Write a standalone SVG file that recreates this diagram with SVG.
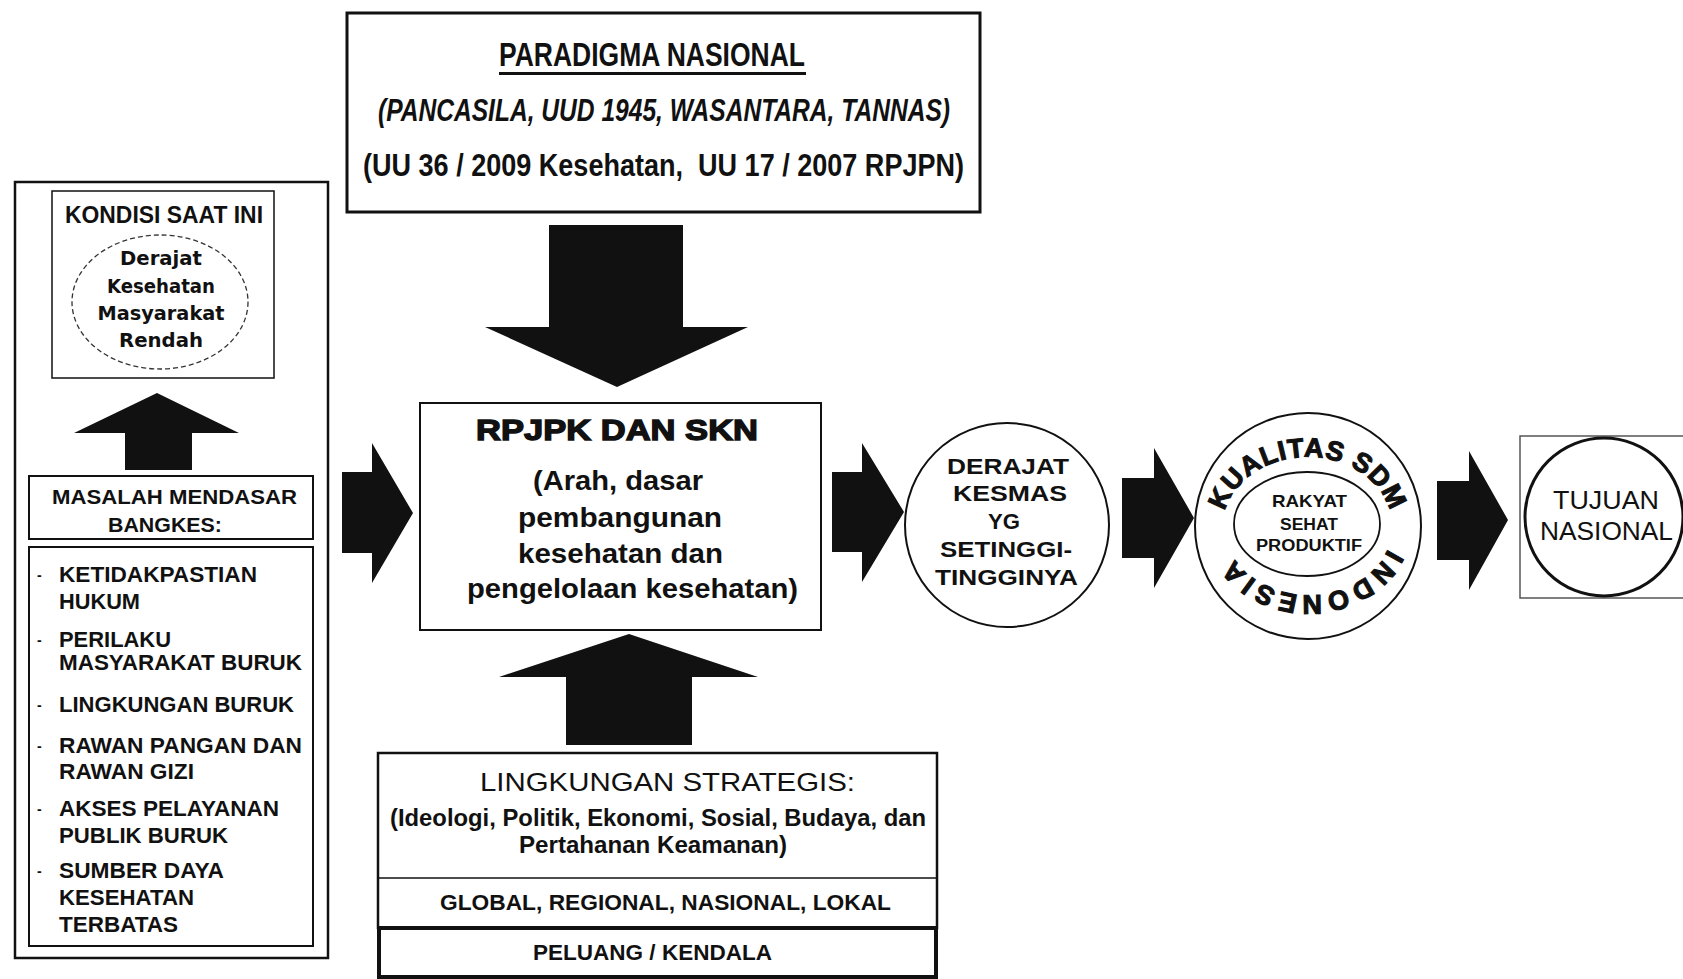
<svg xmlns="http://www.w3.org/2000/svg" width="1683" height="979" viewBox="0 0 1683 979">
<style>
text{font-family:"Liberation Sans",Arial,sans-serif;fill:#111;}
.b{font-weight:bold;}
.box{fill:#fff;stroke:#111;}
.arr{fill:#111;stroke:none;}
.lst{font-size:22px;font-weight:bold;}
.dash{font-size:14px;font-weight:bold;}
.pre{white-space:pre;}
.ring{font-size:27px;font-weight:bold;stroke:#111;stroke-width:1.1px;}
</style>
<rect x="0" y="0" width="1683" height="979" fill="#fff"/>

<g id="paradigma">
<rect class="box" x="347" y="13" width="633" height="199" stroke-width="3"/>
<text class="b" x="499" y="66" font-size="34" textLength="306" lengthAdjust="spacingAndGlyphs">PARADIGMA NASIONAL</text>
<rect x="499" y="72" width="307" height="3" fill="#111"/>
<text class="b" x="378" y="121" font-size="31" font-style="italic" textLength="572" lengthAdjust="spacingAndGlyphs">(PANCASILA, UUD 1945, WASANTARA, TANNAS)</text>
<text class="pre" x="363" y="176" font-size="32" font-weight="bold" textLength="601" lengthAdjust="spacingAndGlyphs">(UU 36 / 2009 Kesehatan,  UU 17 / 2007 RPJPN)</text>
</g>

<g id="kiri">
<rect class="box" x="15" y="182" width="313" height="776" stroke-width="2.5"/>
<g id="kondisi">
<rect class="box" x="52" y="191" width="222" height="187" stroke-width="1.5" stroke="#444"/>
<text class="b" x="65" y="223" font-size="23" textLength="198" lengthAdjust="spacingAndGlyphs">KONDISI SAAT INI</text>
<ellipse cx="160" cy="302" rx="88" ry="67" fill="#fff" stroke="#333" stroke-width="1.3" stroke-dasharray="5,3"/>
<text x="161" y="265" font-size="19" text-anchor="middle" style="font-family:'DejaVu Sans',sans-serif;font-weight:bold" textLength="82" lengthAdjust="spacingAndGlyphs">Derajat</text>
<text x="161" y="293" font-size="19" text-anchor="middle" style="font-family:'DejaVu Sans',sans-serif;font-weight:bold" textLength="108" lengthAdjust="spacingAndGlyphs">Kesehatan</text>
<text x="161" y="320" font-size="19" text-anchor="middle" style="font-family:'DejaVu Sans',sans-serif;font-weight:bold" textLength="127" lengthAdjust="spacingAndGlyphs">Masyarakat</text>
<text x="161" y="347" font-size="19" text-anchor="middle" style="font-family:'DejaVu Sans',sans-serif;font-weight:bold" textLength="84" lengthAdjust="spacingAndGlyphs">Rendah</text>
</g>
<g id="masalah">
<rect class="box" x="29" y="476" width="284" height="63" stroke-width="2"/>
<text class="b" x="52" y="504" font-size="21" textLength="245" lengthAdjust="spacingAndGlyphs">MASALAH MENDASAR</text>
<text class="b" x="108" y="532" font-size="21" textLength="114" lengthAdjust="spacingAndGlyphs">BANGKES:</text>
</g>
<g id="daftar">
<rect class="box" x="29" y="547" width="284" height="399" stroke-width="2"/>
<text class="dash" x="37" y="580">-</text>
<text class="lst" x="59" y="582" textLength="198" lengthAdjust="spacingAndGlyphs">KETIDAKPASTIAN</text>
<text class="lst" x="59" y="609" textLength="81" lengthAdjust="spacingAndGlyphs">HUKUM</text>
<text class="dash" x="37" y="645">-</text>
<text class="lst" x="59" y="647" textLength="112" lengthAdjust="spacingAndGlyphs">PERILAKU</text>
<text class="lst" x="59" y="670" textLength="243" lengthAdjust="spacingAndGlyphs">MASYARAKAT BURUK</text>
<text class="dash" x="37" y="710">-</text>
<text class="lst" x="59" y="712" textLength="235" lengthAdjust="spacingAndGlyphs">LINGKUNGAN BURUK</text>
<text class="dash" x="37" y="751">-</text>
<text class="lst" x="59" y="753" textLength="243" lengthAdjust="spacingAndGlyphs">RAWAN PANGAN DAN</text>
<text class="lst" x="59" y="779" textLength="135" lengthAdjust="spacingAndGlyphs">RAWAN GIZI</text>
<text class="dash" x="37" y="814">-</text>
<text class="lst" x="59" y="816" textLength="220" lengthAdjust="spacingAndGlyphs">AKSES PELAYANAN</text>
<text class="lst" x="59" y="843" textLength="169" lengthAdjust="spacingAndGlyphs">PUBLIK BURUK</text>
<text class="dash" x="37" y="876">-</text>
<text class="lst" x="59" y="878" textLength="165" lengthAdjust="spacingAndGlyphs">SUMBER DAYA</text>
<text class="lst" x="59" y="905" textLength="135" lengthAdjust="spacingAndGlyphs">KESEHATAN</text>
<text class="lst" x="59" y="932" textLength="119" lengthAdjust="spacingAndGlyphs">TERBATAS</text>
</g>
</g>

<g id="rpjpk">
<rect class="box" x="420" y="403" width="401" height="227" stroke-width="2"/>
<text x="476" y="440" font-size="30" font-weight="bold" stroke="#111" stroke-width="1.4" textLength="282" lengthAdjust="spacingAndGlyphs">RPJPK DAN SKN</text>
<text class="b" x="533" y="490" font-size="28" textLength="170" lengthAdjust="spacingAndGlyphs">(Arah, dasar</text>
<text class="b" x="518" y="527" font-size="28" textLength="204" lengthAdjust="spacingAndGlyphs">pembangunan</text>
<text class="b" x="518" y="563" font-size="28" textLength="205" lengthAdjust="spacingAndGlyphs">kesehatan dan</text>
<text class="b" x="467" y="598" font-size="28" textLength="331" lengthAdjust="spacingAndGlyphs">pengelolaan kesehatan)</text>
</g>

<g id="lingkungan">
<rect class="box" x="378" y="753" width="559" height="175" stroke-width="2.5"/>
<line x1="378" y1="878" x2="937" y2="878" stroke="#111" stroke-width="1.5"/>
<rect class="box" x="379" y="928" width="557" height="49" stroke-width="4"/>
<text x="480" y="791" font-size="25" textLength="375" lengthAdjust="spacingAndGlyphs">LINGKUNGAN STRATEGIS:</text>
<text class="b" x="390" y="826" font-size="23" textLength="536" lengthAdjust="spacingAndGlyphs">(Ideologi, Politik, Ekonomi, Sosial, Budaya, dan</text>
<text class="b" x="519" y="853" font-size="23" textLength="268" lengthAdjust="spacingAndGlyphs">Pertahanan Keamanan)</text>
<text class="b" x="440" y="910" font-size="22" textLength="451" lengthAdjust="spacingAndGlyphs">GLOBAL, REGIONAL, NASIONAL, LOKAL</text>
<text class="b" x="533" y="960" font-size="22" textLength="239" lengthAdjust="spacingAndGlyphs">PELUANG / KENDALA</text>
</g>

<g id="derajat">
<circle cx="1007" cy="525" r="102" fill="#fff" stroke="#111" stroke-width="2"/>
<text class="b" x="947" y="474" font-size="22" textLength="122" lengthAdjust="spacingAndGlyphs">DERAJAT</text>
<text class="b" x="953" y="501" font-size="22" textLength="114" lengthAdjust="spacingAndGlyphs">KESMAS</text>
<text class="b" x="988" y="529" font-size="22" textLength="32" lengthAdjust="spacingAndGlyphs">YG</text>
<text class="b" x="940" y="557" font-size="22" textLength="132" lengthAdjust="spacingAndGlyphs">SETINGGI-</text>
<text class="b" x="935" y="585" font-size="22" textLength="143" lengthAdjust="spacingAndGlyphs">TINGGINYA</text>
</g>

<g id="kualitas">
<defs>
<path id="ring" d="M1224.9,511.2 A85,71 0 0 1 1391.1,540.8 A85,71 0 0 1 1224.9,511.2"/>
</defs>
<circle cx="1308" cy="526" r="113" fill="#fff" stroke="#111" stroke-width="2"/>
<ellipse cx="1307" cy="524" rx="73" ry="52" fill="#fff" stroke="#111" stroke-width="1.8"/>
<text class="ring" letter-spacing="0.8"><textPath href="#ring" startOffset="0">KUALITAS SDM</textPath></text>
<text class="ring" letter-spacing="4"><textPath href="#ring" startOffset="250">INDONESIA</textPath></text>
<text class="b" x="1272" y="507" font-size="17" textLength="75" lengthAdjust="spacingAndGlyphs">RAKYAT</text>
<text class="b" x="1280" y="530" font-size="17" textLength="58" lengthAdjust="spacingAndGlyphs">SEHAT</text>
<text class="b" x="1256" y="551" font-size="16" textLength="106" lengthAdjust="spacingAndGlyphs">PRODUKTIF</text>
</g>

<g id="tujuan">
<rect x="1520" y="436" width="170" height="162" fill="#fff" stroke="#555" stroke-width="1.5"/>
<circle cx="1604" cy="517" r="79" fill="#fff" stroke="#111" stroke-width="3"/>
<text x="1553" y="509" font-size="26" textLength="106" lengthAdjust="spacingAndGlyphs">TUJUAN</text>
<text x="1540" y="540" font-size="26" textLength="133" lengthAdjust="spacingAndGlyphs">NASIONAL</text>
</g>

<g id="connectors">
<polygon class="arr" points="549,225 683,225 683,327 748,327 617,387 485,327 549,327"/>
<polygon class="arr" points="629,634 758,677 692,677 692,745 566,745 566,677 499,677"/>
<polygon class="arr" points="157,393 239,433 192,433 192,470 125,470 125,433 74,433"/>
<polygon class="arr" points="342,472 372,472 372,443 413,513 372,583 372,553 342,553"/>
<polygon class="arr" points="832,472 862,472 862,443 904,512 862,582 862,552 832,552"/>
<polygon class="arr" points="1122,478 1154,478 1154,448 1194,518 1154,588 1154,558 1122,558"/>
<polygon class="arr" points="1437,481 1469,481 1469,451 1508,520 1469,590 1469,560 1437,560"/>
</g>
</svg>
